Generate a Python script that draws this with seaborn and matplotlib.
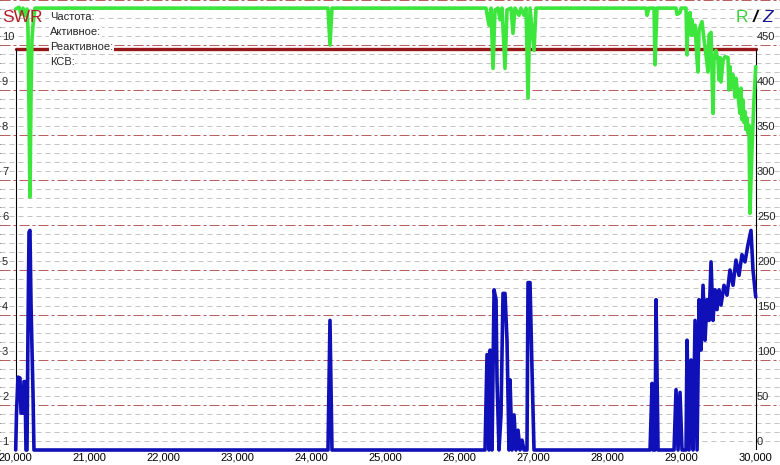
import numpy as np
import seaborn as sns
import matplotlib.pyplot as plt
from matplotlib import transforms
from matplotlib.ticker import MultipleLocator

# --- sweep data (kHz) ---
# SWR is pinned at the top of its scale over the whole band
swr_freq = [20000, 30000]
swr_vals = [9.91, 9.91]

# R (green), ohms
r_freq = [
    20000, 20045, 20072, 20099, 20126, 20153, 20166, 20180, 20193, 20207,
    20220, 20234, 20261, 24220, 24247, 24274, 26355, 26396, 26423, 26450,
    26477, 26518, 26545, 26572, 26612, 26639, 26693, 26720, 26747, 26801,
    26828, 26869, 26896, 26923, 26950, 27004, 27031, 28518, 28531, 28558,
    28626, 28639, 28666, 28923, 28937, 28977, 28991, 29045, 29058, 29072,
    29085, 29099, 29112, 29126, 29139, 29153, 29180, 29207, 29220, 29234,
    29274, 29301, 29328, 29355, 29369, 29396, 29423, 29436, 29463, 29490,
    29504, 29517, 29531, 29558, 29585, 29625, 29639, 29652, 29666, 29693,
    29720, 29733, 29760, 29787, 29801, 29814, 29828, 29841, 29855, 29868,
    29882, 29895, 29909, 29922, 29949, 29976, 30000,
]
r_vals = [
    490, 492, 484, 491, 483, 490, 467, 378, 281, 394,
    456, 472, 491, 491, 450, 491, 491, 472, 491, 424,
    489, 491, 478, 491, 424, 489, 491, 463, 491, 483,
    491, 483, 491, 391, 491, 444, 491, 491, 483, 491,
    491, 428, 491, 491, 484, 486, 491, 491, 491, 439,
    483, 467, 486, 461, 478, 461, 472, 433, 420, 467,
    476, 456, 439, 420, 461, 464, 374, 433, 444, 433,
    411, 436, 409, 433, 437, 436, 400, 426, 402, 417,
    392, 413, 394, 374, 402, 367, 389, 364, 376, 356,
    369, 352, 361, 263, 333, 389, 426,
]

# Z (blue), ohms
z_freq = [
    20000, 20011, 20031, 20058, 20072, 20099, 20112, 20126, 20139, 20153,
    20166, 20180, 20193, 20207, 20220, 20234, 20247, 24220, 24247, 24274,
    26342, 26369, 26396, 26410, 26437, 26464, 26491, 26504, 26531, 26558,
    26585, 26612, 26639, 26666, 26680, 26707, 26734, 26761, 26788, 26815,
    26842, 26869, 26909, 26923, 26950, 26977, 27004, 28572, 28599, 28612,
    28639, 28653, 28680, 28896, 28923, 28950, 28977, 29004, 29058, 29072,
    29099, 29126, 29153, 29180, 29207, 29234, 29261, 29288, 29315, 29342,
    29369, 29396, 29423, 29450, 29477, 29504, 29531, 29571, 29612, 29652,
    29693, 29733, 29774, 29814, 29855, 29895, 29936, 29963, 30000,
]
z_vals = [
    0, 41, 81, 80, 41, 41, 76, 76, 0, 0,
    133, 242, 244, 163, 114, 63, 0, 0, 144, 0,
    0, 106, 0, 111, 0, 178, 167, 78, 0, 39,
    174, 174, 122, 0, 78, 0, 39, 0, 22, 0,
    11, 0, 0, 186, 186, 89, 0, 0, 74, 0,
    0, 167, 0, 0, 67, 0, 64, 0, 0, 122,
    0, 100, 0, 144, 0, 167, 111, 183, 122, 167,
    144, 209, 144, 178, 156, 178, 161, 183, 172, 200,
    183, 211, 194, 217, 209, 228, 244, 200, 170,
]

swr_ticks = [1, 2, 3, 4, 5, 6, 7, 8, 9, 10]
rz_ticks = [0, 50, 100, 150, 200, 250, 300, 350, 400, 450]
freq_ticks = [20000, 21000, 22000, 23000, 24000, 25000, 26000, 27000, 28000, 29000, 30000]
freq_labels = ["20,000", "21,000", "22,000", "23,000", "24,000", "25,000",
               "26,000", "27,000", "28,000", "29,000", "30,000"]
info_labels = ["Частота:", "Активное:", "Реактивное:", "КСВ:"]


def make_plot():
    sns.set_style("white")
    plt.rcParams['font.family'] = ['Liberation Sans', 'DejaVu Sans']

    fig = plt.figure(figsize=(7.8, 4.65), dpi=100)
    # plot area spans the full width, leaves 15px at the bottom for freq labels
    ax = fig.add_axes([0, 15 / 465, 1, 450 / 465])
    ax.set_xlim(19788, 30328)
    ax.set_ylim(1, 11)
    for s in ax.spines.values():
        s.set_visible(False)

    # horizontal grid: grey dashes every 0.2, red dash-dot every 1
    ax.set_yticks(swr_ticks + [11])
    ax.yaxis.set_minor_locator(MultipleLocator(0.2))
    ax.grid(which='minor', axis='y', color='#c4c4c4', lw=0.72, ls=(0, (5, 4)))
    ax.grid(which='major', axis='y', color='#b86060', lw=0.72, ls=(0, (10, 3, 3, 3)))
    ax.grid(which='both', axis='x', visible=False)
    ax.tick_params(axis='y', which='both', left=False, labelleft=False)

    ax.set_xticks(freq_ticks, freq_labels)
    ax.tick_params(axis='x', length=0, pad=1.5, labelsize=8, colors='black')

    # SWR trace and the sweep boundaries
    sns.lineplot(x=swr_freq, y=swr_vals, ax=ax, color='#961818', lw=2.4,
                 estimator=None, sort=False)
    ax.vlines([swr_freq[0], swr_freq[-1]], 1, swr_vals[0], color='black', lw=0.8)

    # left scale labels, sitting just above their lines
    left_tr = transforms.offset_copy(
        transforms.blended_transform_factory(ax.transAxes, ax.transData),
        fig=fig, x=0, y=3, units='dots')
    for v in swr_ticks:
        ax.text(2 / 780, v, str(v), transform=left_tr, ha='left', va='bottom', fontsize=8)

    # R / Z on a second scale
    ax2 = ax.twinx()
    sns.lineplot(x=r_freq, y=r_vals, ax=ax2, color='#3ce63c', lw=2.6,
                 estimator=None, sort=False, clip_on=False)
    sns.lineplot(x=z_freq, y=z_vals, ax=ax2, color='#1010b8', lw=2.6,
                 estimator=None, sort=False, clip_on=False)
    ax2.set_ylim(0, 500)
    ax2.set_xlim(19788, 30328)
    ax2.set_axis_off()

    right_tr = transforms.offset_copy(
        transforms.blended_transform_factory(ax2.transAxes, ax2.transData),
        fig=fig, x=0, y=3, units='dots')
    for v in rz_ticks:
        ax2.text(757 / 780, v, str(v), transform=right_tr, ha='left', va='bottom', fontsize=8)

    # headers
    fig.text(2 / 780, 1 - 17 / 465, "SWR", color='#b41e28', fontsize=12.5, va='center', ha='left')
    fig.text(736 / 780, 1 - 17 / 465, "R", color='#3cd23c', fontsize=12.5, va='center', ha='left')
    fig.text(753 / 780, 1 - 17 / 465, "/", color='black', fontsize=12.5, va='center', ha='left',
             style='italic', fontweight='bold')
    fig.text(762 / 780, 1 - 17 / 465, "Z", color='#1a1a8c', fontsize=12.5, va='center', ha='left',
             style='italic')

    for i, lab in enumerate(info_labels):
        fig.text(50 / 780, 1 - (17 + 15 * i) / 465, lab, fontsize=8, va='center', ha='left',
                 bbox=dict(facecolor='white', edgecolor='none', pad=0.5))

    fig.savefig('out.png', dpi=100)
    plt.close(fig)


if __name__ == "__main__":
    make_plot()
